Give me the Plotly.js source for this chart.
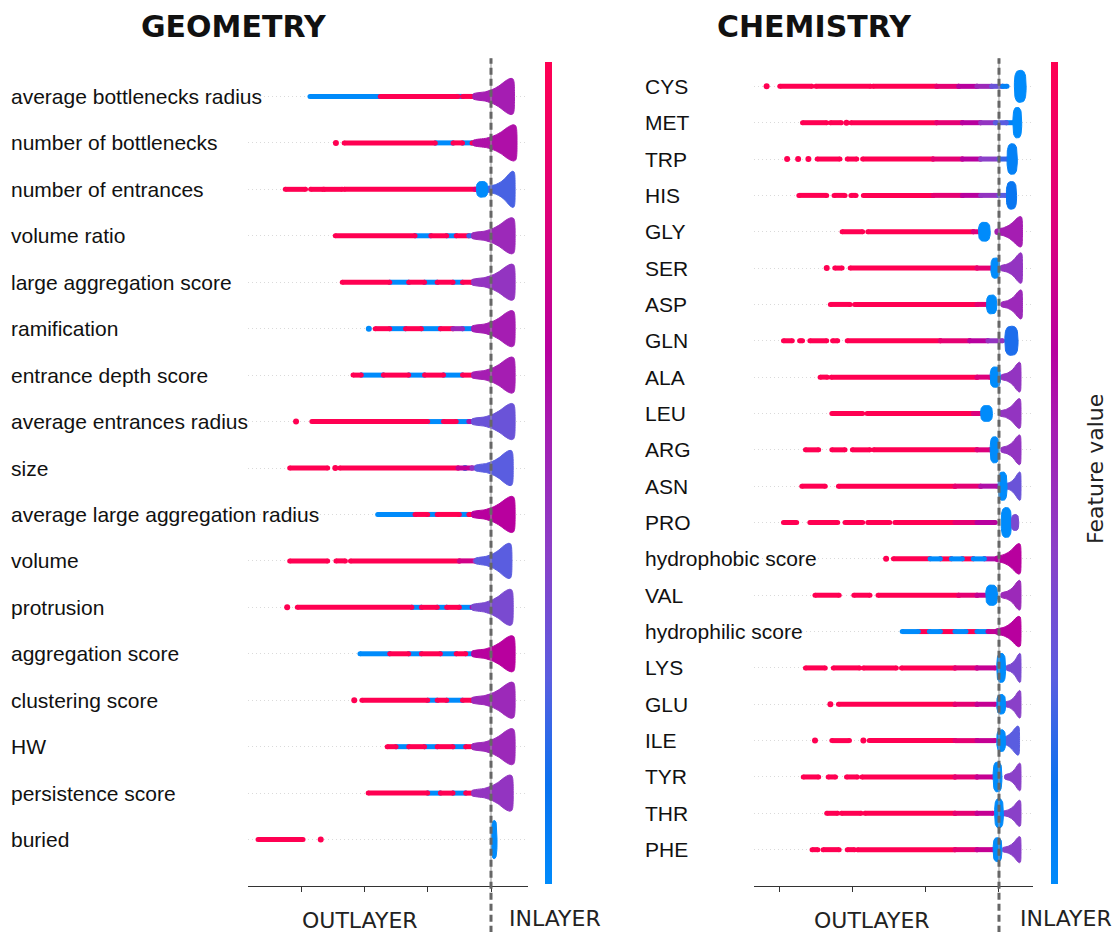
<!DOCTYPE html>
<html><head><meta charset="utf-8">
<script src="https://cdn.plot.ly/plotly-3.0.1.min.js"></script>
<style>html,body{margin:0;padding:0;background:#fff}#chart{width:1112px;height:932px}</style>
</head><body><div id="chart"></div>
<script>
// ---------- DATA (SHAP values; v = feature value 0 low .. 1 high) ----------
const geoFeatures = ["average bottlenecks radius","number of bottlenecks","number of entrances","volume ratio","large aggregation score","ramification","entrance depth score","average entrances radius","size","average large aggregation radius","volume","protrusion","aggregation score","clustering score","HW","persistence score","buried"];
// tail runs of points: [shapFrom, shapTo, featureValue]
const geoTails = [
 [[-2.86,-1.75,0],[-1.75,-0.52,1],[-0.55,-0.45,0],[-0.45,-0.3,1],[-0.3,-0.22,0],[-0.22,-0.1,0.8]],
 [[-2.45,-2.45,1],[-2.32,-0.88,1],[-0.88,-0.6,0],[-0.6,-0.45,1],[-0.45,-0.3,0],[-0.3,-0.15,1]],
 [[-3.25,-2.93,1],[-2.85,-2.65,1],[-2.64,-2.35,1],[-2.32,-0.25,1],[-0.25,-0.12,0.8]],
 [[-2.46,-1.2,1],[-1.2,-0.95,0],[-0.95,-0.7,1],[-0.7,-0.55,0],[-0.55,-0.35,1],[-0.35,-0.15,0.2]],
 [[-2.35,-1.6,1],[-1.6,-1.3,0],[-1.3,-1.05,1],[-1.05,-0.85,0],[-0.85,-0.6,1],[-0.6,-0.45,0],[-0.45,-0.3,1],[-0.3,-0.15,0]],
 [[-1.93,-1.93,0],[-1.83,-1.6,1],[-1.6,-1.35,0],[-1.35,-1.1,1],[-1.1,-0.8,0],[-0.8,-0.6,1],[-0.6,-0.45,0.5],[-0.45,-0.2,0]],
 [[-2.18,-2.05,1],[-2.05,-1.7,0],[-1.7,-1.3,1],[-1.3,-1.05,0],[-1.05,-0.75,1],[-0.75,-0.45,0],[-0.45,-0.25,1],[-0.25,-0.1,0]],
 [[-3.08,-3.08,1],[-2.83,-1.0,1],[-1.0,-0.75,0],[-0.75,-0.55,1],[-0.55,-0.35,0],[-0.35,-0.15,0.6]],
 [[-3.18,-2.58,1],[-2.46,-2.46,1],[-2.39,-0.52,1],[-0.52,-0.3,0.7],[-0.41,-0.41,0],[-0.3,-0.12,0.45]],
 [[-1.79,-1.2,0],[-1.2,-1.0,1],[-1.0,-0.85,0],[-0.85,-0.5,1],[-0.5,-0.35,0],[-0.35,-0.15,1]],
 [[-3.18,-2.58,1],[-2.45,-2.3,1],[-2.22,-0.5,1],[-0.5,-0.25,0.75],[-0.25,-0.1,0.4]],
 [[-3.22,-3.22,1],[-3.06,-1.25,1],[-1.25,-1.1,0],[-1.1,-0.85,1],[-0.85,-0.7,0],[-0.7,-0.5,1],[-0.5,-0.3,0],[-0.3,-0.12,0.6]],
 [[-2.07,-1.6,0],[-1.6,-1.3,1],[-1.3,-1.1,0],[-1.1,-0.8,1],[-0.8,-0.55,0],[-0.55,-0.4,1],[-0.4,-0.15,0]],
 [[-2.16,-2.16,1],[-2.04,-1.0,1],[-1.0,-0.85,0],[-0.85,-0.7,1],[-0.7,-0.45,0],[-0.45,-0.3,1],[-0.3,-0.12,0]],
 [[-1.64,-1.5,1],[-1.5,-1.3,0],[-1.3,-1.05,1],[-1.05,-0.85,0],[-0.85,-0.6,1],[-0.6,-0.4,0],[-0.4,-0.15,1]],
 [[-1.94,-1.0,1],[-1.0,-0.8,0],[-0.8,-0.6,1],[-0.6,-0.4,0],[-0.4,-0.25,1],[-0.25,-0.1,0.3]],
 [[-3.68,-2.97,1],[-2.69,-2.69,1]]
];
// compact clusters: [shapCentre, shapHalfWidth, rowHalfHeight, featureValue]
const geoBlobs = [[],[],[[-0.14,0.09,0.17,0]],[],[],[],[],[],[],[],[],[],[],[],[],[],[[0.05,0.045,0.41,0]]];
// dense swarm near zero: [shapFrom, shapTo, rowHalfHeight, featureValue]
const geoBulks = [
 [-0.28,0.37,0.39,0.55],[-0.28,0.41,0.39,0.6],[-0.06,0.38,0.39,0.22],[-0.3,0.38,0.39,0.5],
 [-0.3,0.38,0.39,0.45],[-0.3,0.38,0.39,0.55],[-0.3,0.38,0.39,0.55],[-0.3,0.38,0.39,0.3],
 [-0.25,0.35,0.38,0.25],[-0.3,0.38,0.39,0.65],[-0.25,0.33,0.38,0.25],[-0.3,0.35,0.39,0.35],
 [-0.3,0.38,0.39,0.65],[-0.3,0.38,0.39,0.5],[-0.3,0.38,0.39,0.5],[-0.3,0.35,0.39,0.45],null
];

const chemFeatures = ["CYS","MET","TRP","HIS","GLY","SER","ASP","GLN","ALA","LEU","ARG","ASN","PRO","hydrophobic score","VAL","hydrophilic score","LYS","GLU","ILE","TYR","THR","PHE"];
const chemTails = [
 [[-3.17,-3.17,1],[-2.99,-2.55,1],[-2.5,-1.75,1],[-1.72,-0.85,1],[-0.85,-0.55,0.85],[-0.55,-0.3,0.65],[-0.3,-0.1,0.5],[-0.1,0.05,0.3],[0.05,0.11,0.05]],
 [[-2.68,-2.35,1],[-2.3,-2.15,1],[-2.08,-2.08,1],[-2.02,-0.85,1],[-0.85,-0.5,0.85],[-0.5,-0.25,0.65],[-0.25,-0.05,0.45],[-0.05,0.1,0.25],[0.1,0.2,0.05]],
 [[-2.89,-2.89,1],[-2.74,-2.74,1],[-2.6,-2.6,1],[-2.48,-2.17,1],[-2.07,-1.94,1],[-1.86,-0.9,1],[-0.9,-0.5,0.85],[-0.5,-0.25,0.65],[-0.25,0.0,0.4],[0.0,0.12,0.2]],
 [[-2.73,-2.35,1],[-2.25,-2.1,1],[-2.02,-1.95,1],[-1.85,-0.9,1],[-0.9,-0.5,0.85],[-0.5,-0.25,0.65],[-0.25,0.0,0.45],[0.0,0.1,0.25]],
 [[-2.14,-1.86,1],[-1.79,-0.35,1],[-0.35,-0.2,0.8]],
 [[-2.35,-2.35,1],[-2.24,-2.14,1],[-2.03,-0.3,1],[-0.3,-0.1,0.85]],
 [[-2.3,-2.03,1],[-1.97,-0.3,1],[-0.3,-0.15,0.85]],
 [[-2.94,-2.82,1],[-2.72,-2.68,1],[-2.58,-2.35,1],[-2.27,-2.2,1],[-2.07,-0.8,1],[-0.8,-0.4,0.85],[-0.4,-0.15,0.65],[-0.15,0.05,0.45]],
 [[-2.44,-2.34,1],[-2.29,-0.3,1],[-0.3,-0.12,0.8]],
 [[-2.28,-1.86,1],[-1.8,-0.35,1],[-0.35,-0.2,0.8]],
 [[-2.64,-2.46,1],[-2.28,-2.1,1],[-2.0,-1.76,1],[-1.71,-0.3,1],[-0.3,-0.12,0.8]],
 [[-2.69,-2.37,1],[-2.19,-0.6,1],[-0.6,-0.25,0.85],[-0.25,-0.02,0.6]],
 [[-2.94,-2.76,1],[-2.58,-2.2,1],[-2.1,-1.86,1],[-1.79,-1.49,1],[-1.42,-0.6,1],[-0.6,-0.3,0.85],[-0.3,-0.05,0.65]],
 [[-1.54,-1.54,1],[-1.44,-0.94,1],[-0.94,-0.8,0],[-0.8,-0.65,1],[-0.65,-0.5,0],[-0.5,-0.35,1],[-0.35,-0.2,0],[-0.2,-0.02,0.6]],
 [[-2.51,-2.18,1],[-1.98,-1.76,1],[-1.65,-0.55,1],[-0.55,-0.3,0.85],[-0.3,-0.15,0.7]],
 [[-1.32,-1.1,0],[-1.1,-0.95,1],[-0.95,-0.8,0],[-0.8,-0.6,1],[-0.6,-0.45,0],[-0.45,-0.3,1],[-0.3,-0.15,0],[-0.15,0.0,0.7]],
 [[-2.64,-2.37,1],[-2.26,-1.9,1],[-1.85,-1.4,1],[-1.33,-0.6,1],[-0.6,-0.3,0.85],[-0.3,-0.05,0.7]],
 [[-2.3,-2.3,1],[-2.19,-0.6,1],[-0.6,-0.3,0.85],[-0.3,-0.05,0.7]],
 [[-2.51,-2.51,1],[-2.28,-2.04,1],[-1.85,-1.85,1],[-1.77,-0.6,1],[-0.6,-0.3,0.85],[-0.3,-0.05,0.7]],
 [[-2.67,-2.46,1],[-2.33,-2.23,1],[-2.08,-1.93,1],[-1.87,-0.6,1],[-0.6,-0.3,0.85],[-0.3,-0.08,0.7]],
 [[-2.35,-2.2,1],[-2.15,-1.88,1],[-1.83,-0.6,1],[-0.6,-0.3,0.85],[-0.3,-0.08,0.7]],
 [[-2.55,-2.47,1],[-2.4,-2.18,1],[-2.07,-1.97,1],[-1.93,-0.6,1],[-0.6,-0.3,0.85],[-0.3,-0.08,0.7]]
];
const chemBlobs = [
 [[0.29,0.08,0.44,0]],[[0.25,0.06,0.42,0]],[[0.18,0.07,0.42,0.05]],[[0.17,0.07,0.38,0.1]],
 [[-0.2,0.08,0.26,0]],[[-0.05,0.06,0.28,0]],[[-0.1,0.07,0.26,0]],[[0.17,0.09,0.4,0.15]],
 [[-0.05,0.07,0.28,0]],[[-0.17,0.08,0.22,0]],[[-0.06,0.06,0.36,0]],[[0.05,0.06,0.39,0]],
 [[0.1,0.07,0.41,0],[0.22,0.05,0.22,0.35]],[],[[-0.1,0.08,0.28,0]],[],
 [[0.03,0.06,0.4,0]],[[0.03,0.06,0.27,0]],[[0.03,0.06,0.3,0]],[[-0.02,0.06,0.41,0]],[[0.0,0.06,0.4,0]],[[-0.02,0.06,0.33,0]]
];
const chemBulks = [
 null,null,null,null,
 [-0.05,0.32,0.42,0.55],[0.02,0.32,0.42,0.45],[0.03,0.32,0.4,0.5],null,
 [0.03,0.3,0.41,0.45],[0.0,0.3,0.41,0.45],[0.03,0.3,0.41,0.45],[0.08,0.3,0.39,0.3],
 null,[-0.05,0.3,0.42,0.65],[0.03,0.3,0.41,0.5],[-0.05,0.3,0.42,0.65],
 [0.1,0.3,0.4,0.35],[0.08,0.3,0.38,0.4],[0.0,0.28,0.4,0.25],[0.08,0.3,0.38,0.4],[0.05,0.3,0.36,0.4],[0.05,0.3,0.36,0.4]
];
const axisTicks = [-3,-2,-1,0];
const panelTitles = ["GEOMETRY","CHEMISTRY"];
const sideLabels = ["OUTLAYER","INLAYER"];

// ---------- STYLE ----------
const colorStops = [[0,'#008bfb'],[0.12,'#0a72ef'],[0.25,'#5a5de0'],[0.4,'#8a40c8'],[0.55,'#a51db2'],[0.65,'#b8009e'],[0.8,'#dc007c'],[1,'#ff0052']];
const plotlyScale = colorStops.map(s=>[s[0],s[1]]);
function hex(h){return [1,3,5].map(i=>parseInt(h.slice(i,i+2),16));}
function colorAt(v){
  for(let i=1;i<colorStops.length;i++){
    if(v<=colorStops[i][0]){
      const [a0,c0]=colorStops[i-1],[a1,c1]=colorStops[i];
      const t=(v-a0)/(a1-a0), p=hex(c0), q=hex(c1);
      return 'rgb('+p.map((x,k)=>Math.round(x+(q[k]-x)*t)).join(',')+')';
    }
  }
  return colorStops[colorStops.length-1][1];
}
// swarm outline profile (shape only)
const profT=[0,0.3,0.5,0.65,0.76,0.85,0.92,0.97,0.99,1.0];
const profH=[0.14,0.26,0.42,0.62,0.82,0.95,1,0.95,0.8,0.45];

const traces=[];
function addPanel(features,tails,blobs,bulks,xa,ya){
  const n=features.length;
  const groups={};
  features.forEach((f,i)=>{
    const row=n-1-i;
    tails[i].forEach(([a,b,v])=>{
      const c=colorAt(v);
      if(!groups[c]) groups[c]={x:[],y:[],dx:[],dy:[]};
      if(a===b){groups[c].dx.push(a);groups[c].dy.push(row);}
      else{groups[c].x.push(a,b,null);groups[c].y.push(row,row,null);}
    });
  });
  Object.keys(groups).forEach(c=>{
    const g=groups[c];
    traces.push({type:'scatter',mode:'lines+markers',x:g.x,y:g.y,xaxis:xa,yaxis:ya,
      line:{color:c,width:5},marker:{color:c,size:5},hoverinfo:'skip',showlegend:false});
    if(g.dx.length) traces.push({type:'scatter',mode:'markers',x:g.dx,y:g.dy,xaxis:xa,yaxis:ya,
      marker:{color:c,size:6},hoverinfo:'skip',showlegend:false});
  });
  features.forEach((f,i)=>{
    const row=n-1-i, b=bulks[i];
    if(b){
      const [xl,xr,H,v]=b, xs=[], ys=[];
      profT.forEach((t,k)=>{xs.push(xl+t*(xr-xl));ys.push(row+H*profH[k]);});
      for(let k=profT.length-1;k>=0;k--){xs.push(xl+profT[k]*(xr-xl));ys.push(row-H*profH[k]);}
      xs.push(xs[0]);ys.push(ys[0]);
      traces.push({type:'scatter',mode:'lines',x:xs,y:ys,xaxis:xa,yaxis:ya,fill:'toself',
        fillcolor:colorAt(v),line:{width:1,color:colorAt(v),shape:'spline',smoothing:0.6},hoverinfo:'skip',showlegend:false});
    }
  });
  features.forEach((f,i)=>{
    const row=n-1-i;
    blobs[i].forEach(([xc,hx,hy,v])=>{
      const xs=[],ys=[],p=3,N=48;
      for(let k=0;k<=N;k++){
        const th=2*Math.PI*k/N, c=Math.cos(th), s=Math.sin(th);
        xs.push(xc+hx*Math.sign(c)*Math.pow(Math.abs(c),2/p));
        ys.push(row+hy*Math.sign(s)*Math.pow(Math.abs(s),2/p));
      }
      traces.push({type:'scatter',mode:'lines',x:xs,y:ys,xaxis:xa,yaxis:ya,fill:'toself',
        fillcolor:colorAt(v),line:{width:1,color:colorAt(v)},hoverinfo:'skip',showlegend:false});
    });
  });
}
addPanel(geoFeatures,geoTails,geoBlobs,geoBulks,'x','y');
addPanel(chemFeatures,chemTails,chemBlobs,chemBulks,'x2','y2');

// colour bars
function cbTrace(xa,ya,xpos){
  return {type:'scatter',mode:'markers',x:[-100],y:[0],xaxis:xa,yaxis:ya,hoverinfo:'skip',showlegend:false,
    marker:{color:[0.5],cmin:0,cmax:1,colorscale:plotlyScale,showscale:true,size:1,
      colorbar:{x:xpos,xanchor:'left',xref:'paper',y:0.494,yanchor:'middle',yref:'paper',len:822,lenmode:'pixels',
        thickness:7,thicknessmode:'pixels',outlinewidth:0,xpad:0,ypad:0,ticks:'',showticklabels:false}}};
}
traces.push(cbTrace('x','y',545/1112));
traces.push(cbTrace('x2','y2',1051/1112));

const W=1112;
function xAxis(domain,range){
  return {domain:domain,range:range,showgrid:false,zeroline:false,showline:true,linecolor:'#333',linewidth:1,
    ticks:'outside',ticklen:5,tickcolor:'#333',tickvals:axisTicks,showticklabels:false,fixedrange:true};
}
function yAxis(n,anchor){
  const tv=[];for(let i=0;i<n;i++)tv.push(i);
  return {range:[-1,n],anchor:anchor,tickvals:tv,showticklabels:false,ticks:'',showgrid:true,
    gridcolor:'#dadada',griddash:'1px,3px',gridwidth:1,zeroline:false,showline:false,fixedrange:true};
}
const annotations=[];
const labelFont={family:'Liberation Sans, Arial, sans-serif',size:21,color:'#111'};
geoFeatures.forEach((f,i)=>annotations.push({text:f,xref:'paper',x:9/W,xanchor:'left',yref:'y',y:geoFeatures.length-1-i,yanchor:'middle',showarrow:false,font:labelFont}));
chemFeatures.forEach((f,i)=>annotations.push({text:f,xref:'paper',x:643/W,xanchor:'left',yref:'y2',y:chemFeatures.length-1-i,yanchor:'middle',showarrow:false,font:labelFont}));
const titleFont={family:'DejaVu Sans, sans-serif',size:30,color:'#111'};
annotations.push({text:'<b>'+panelTitles[0]+'</b>',xref:'paper',yref:'paper',x:234/W,y:(886-26)/836,xanchor:'center',yanchor:'middle',showarrow:false,font:titleFont});
annotations.push({text:'<b>'+panelTitles[1]+'</b>',xref:'paper',yref:'paper',x:814/W,y:(886-26)/836,xanchor:'center',yanchor:'middle',showarrow:false,font:titleFont});
const sideFont={family:'DejaVu Sans, sans-serif',size:22,color:'#222'};
[[360,555],[872,1066]].forEach(pos=>{
  annotations.push({text:sideLabels[0],xref:'paper',yref:'paper',x:pos[0]/W,y:(886-920)/836,xanchor:'center',yanchor:'middle',showarrow:false,font:sideFont});
  annotations.push({text:sideLabels[1],xref:'paper',yref:'paper',x:pos[1]/W,y:(886-918)/836,xanchor:'center',yanchor:'middle',showarrow:false,font:sideFont});
});
annotations.push({text:'Feature value',xref:'paper',yref:'paper',x:1095/W,y:(886-469)/836,xanchor:'center',yanchor:'middle',textangle:-90,showarrow:false,font:sideFont});

const shapes=[];
[['x','y'],['x2','y2']].forEach(([xa])=>{
  shapes.push({type:'line',xref:xa,yref:'paper',x0:0,x1:0,y0:0,y1:0.99,line:{color:'#999',width:1}});
  shapes.push({type:'line',xref:xa,yref:'paper',x0:0,x1:0,y0:-0.056,y1:0.99,line:{color:'#666',width:3,dash:'7px,4px'}});
});

const layout={width:1112,height:932,margin:{l:0,r:0,t:50,b:46},paper_bgcolor:'#fff',plot_bgcolor:'#fff',showlegend:false,
  xaxis:xAxis([248/W,528/W],[-3.839,0.5845]),
  xaxis2:xAxis([754/W,1033/W],[-3.342,0.464]),
  yaxis:yAxis(geoFeatures.length,'x'),
  yaxis2:yAxis(chemFeatures.length,'x2'),
  annotations:annotations,shapes:shapes};
layout.xaxis2.anchor='y2';
layout.xaxis.anchor='y';
Plotly.newPlot('chart',traces,layout,{staticPlot:true,displayModeBar:false});
</script>
</body></html>
